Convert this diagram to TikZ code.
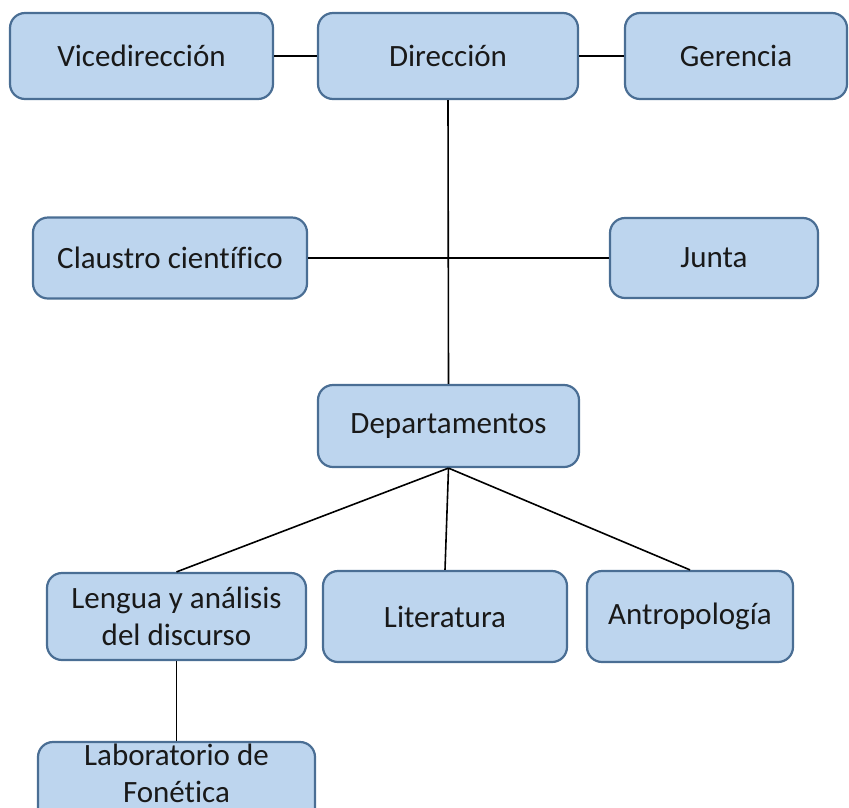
\documentclass[tikz,border=0pt]{standalone}
\usepackage{fontspec}
\setmainfont{Carlito}[Ligatures=NoCommon]
\usetikzlibrary{positioning}

\definecolor{boxfill}{HTML}{BDD5EE}
\definecolor{boxline}{HTML}{4A6E94}
\tikzset{
    orgbox/.style={draw=boxline, fill=boxfill, line width=2.2pt, rounded corners=15pt,
        align=center, inner sep=2pt, font=\fontsize{31}{37}\selectfont, text=black!90},
    link/.style={black, line width=1.6pt}
}

\begin{document}
\begin{tikzpicture}[x=1pt, y=-1pt]
    \clip (0,0) rectangle (849,807);

    % top row
    \node[orgbox, minimum width=263pt, minimum height=86pt] (vice) at (141.5,56) {Vicedirección};
    \node[orgbox, minimum width=260pt, minimum height=86pt] (dir) at (448,56) {Dirección};
    \node[orgbox, minimum width=222pt, minimum height=86pt] (ger) at (736,56) {Gerencia};

    % middle row
    \node[orgbox, minimum width=274pt, minimum height=81pt] (claustro) at (170,258) {Claustro científico};
    \node[orgbox, minimum width=208pt, minimum height=80pt] (junta) at (714,258) {Junta};
    \node[orgbox, minimum width=261pt, minimum height=82pt] (dep) at (448.5,426) {Departamentos};

    % departments
    \node[orgbox, minimum width=259pt, minimum height=87pt] (lengua) at (176.5,616.5) {Lengua y análisis\\del discurso};
    \node[orgbox, minimum width=244pt, minimum height=91pt] (lit) at (445,616.5) {Literatura};
    \node[orgbox, minimum width=206pt, minimum height=91pt] (antro) at (690,616.5) {Antropología};
    \node[orgbox, minimum width=277pt, minimum height=87pt, text depth=24pt] (lab) at (176.5,785.5) {Laboratorio de\\Fonética};

    \draw[link] (vice) -- (dir);
    \draw[link] (dir) -- (ger);
    \draw[link] (dir.south) -- (dep.north);
    \draw[link] (claustro.east) -- (junta.west);
    \foreach \d in {lengua, lit, antro}
        \draw[link] (dep.south) -- (\d.north);
    \draw[link] (lengua.south) -- (lab.north);
\end{tikzpicture}
\end{document}
